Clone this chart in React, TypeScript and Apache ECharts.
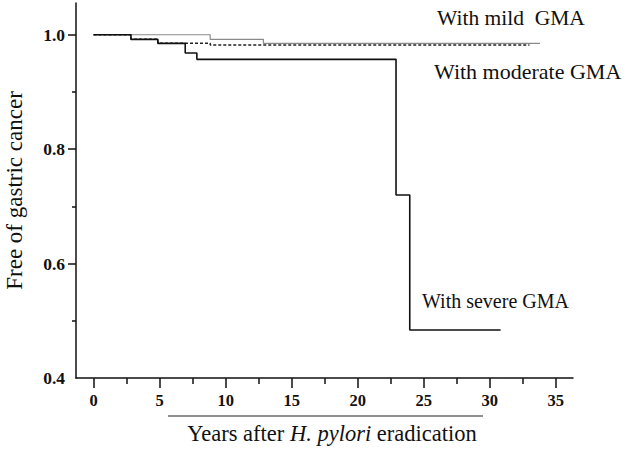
import React, { useEffect, useRef } from "react";
import * as echarts from "echarts";

const severeTimes = [0, 2.83, 4.87, 6.94, 7.82, 22.9, 23.94, 30.82];
const severeSurv = [1, 0.992, 0.985, 0.968, 0.957, 0.72, 0.484, 0.484];
const moderateTimes = [0, 2.83, 4.87, 8.83, 33.0];
const moderateSurv = [1, 0.992, 0.985, 0.982, 0.982];
const mildTimes = [0, 8.83, 12.86, 33.8];
const mildSurv = [1, 0.992, 0.985, 0.985];

const xMajor = [0, 5, 10, 15, 20, 25, 30, 35];
const xMinor = [2.5, 7.5, 12.5, 17.5, 22.5, 27.5, 32.5];
const yMajor = [0.4, 0.6, 0.8, 1.0];
const yMinor = [0.5, 0.7, 0.9];

const X_MIN = -1.33;
const X_MAX = 36.3;
const Y_MIN = 0.4;
const Y_MAX = 1.0555;

const SERIF = '"Liberation Serif", "Times New Roman", serif';

const pairs = (t: number[], s: number[]) => t.map((v, i) => [v, s[i]]);

export default function App() {
  const ref = useRef<HTMLDivElement>(null);
  useEffect(() => {
    if (!ref.current) return;
    const chart = echarts.init(ref.current, null, { renderer: "svg" });
    const axisLine = { show: true, lineStyle: { color: "#111", width: 1.5 } };
    chart.setOption({
      animation: false,
      backgroundColor: "#fff",
      grid: { left: 76, right: 57, top: 3, bottom: 73, containLabel: false, outerBoundsMode: "none" },
      xAxis: [
        {
          type: "value",
          min: X_MIN,
          max: X_MAX,
          axisLine: { ...axisLine, onZero: false },
          axisTick: { show: true, length: 10, inside: false, customValues: xMajor, lineStyle: { color: "#111", width: 1.5 } },
          axisLabel: {
            customValues: xMajor,
            margin: 14,
            fontFamily: SERIF,
            fontWeight: "bold",
            fontSize: 16.5,
            color: "#111",
          },
          splitLine: { show: false },
        },
        {
          type: "value",
          min: X_MIN,
          max: X_MAX,
          position: "bottom",
          axisLine: { show: false, onZero: false },
          axisTick: { show: true, length: 6, customValues: xMinor, lineStyle: { color: "#111", width: 1.5 } },
          axisLabel: { show: false, customValues: xMinor },
          splitLine: { show: false },
        },
      ],
      yAxis: [
        {
          type: "value",
          min: Y_MIN,
          max: Y_MAX,
          name: "Free of gastric cancer",
          nameLocation: "middle",
          nameGap: 50,
          nameTextStyle: { fontFamily: SERIF, fontSize: 23, color: "#111" },
          axisLine: { ...axisLine, onZero: false },
          axisTick: { show: true, length: 8, customValues: [0.6, 0.8, 1.0], lineStyle: { color: "#111", width: 1.5 } },
          axisLabel: {
            customValues: yMajor,
            formatter: (v: number) => v.toFixed(1),
            margin: 11,
            fontFamily: SERIF,
            fontWeight: "bold",
            fontSize: 17.5,
            color: "#111",
          },
          splitLine: { show: false },
        },
        {
          type: "value",
          min: Y_MIN,
          max: Y_MAX,
          position: "left",
          axisLine: { show: false, onZero: false },
          axisTick: { show: true, length: 4, customValues: yMinor, lineStyle: { color: "#111", width: 1.5 } },
          axisLabel: { show: false, customValues: yMinor },
          splitLine: { show: false },
        },
      ],
      series: [
        {
          name: "With mild GMA",
          type: "line",
          step: "end",
          symbol: "none",
          data: pairs(mildTimes, mildSurv),
          lineStyle: { color: "#8a8a8a", width: 1.2 },
          z: 2,
        },
        {
          name: "With moderate GMA",
          type: "line",
          step: "end",
          symbol: "none",
          data: pairs(moderateTimes, moderateSurv),
          lineStyle: { color: "#222", width: 1.5, type: [3, 2] },
          z: 3,
        },
        {
          name: "With severe GMA",
          type: "line",
          step: "end",
          symbol: "none",
          data: pairs(severeTimes, severeSurv),
          lineStyle: { color: "#111", width: 1.6 },
          z: 4,
        },
      ],
      graphic: [
        {
          type: "text",
          left: 437,
          top: 7,
          style: { text: "With mild  GMA", font: `21.5px ${SERIF}`, fill: "#111" },
        },
        {
          type: "text",
          left: 434,
          top: 60,
          style: { text: "With moderate GMA", font: `22px ${SERIF}`, fill: "#111" },
        },
        {
          type: "text",
          left: 422,
          top: 291,
          style: { text: "With severe GMA", font: `20px ${SERIF}`, fill: "#111" },
        },
        {
          type: "line",
          shape: { x1: 168, y1: 416, x2: 483, y2: 416 },
          style: { stroke: "#222", lineWidth: 1.2 },
        },
        {
          type: "text",
          x: 332,
          y: 433,
          style: {
            text: "{n|Years after }{i|H. pylori}{n| eradication}",
            align: "center",
            verticalAlign: "middle",
            rich: {
              n: { fontFamily: SERIF, fontSize: 22.5, fill: "#111" },
              i: { fontFamily: SERIF, fontSize: 22.5, fontStyle: "italic", fill: "#111" },
            },
          },
        },
      ],
    });
    return () => chart.dispose();
  }, []);
  return (
    <div
      ref={ref}
      style={{ position: "fixed", left: 0, top: 0, width: 630, height: 451, background: "#fff" }}
    />
  );
}
